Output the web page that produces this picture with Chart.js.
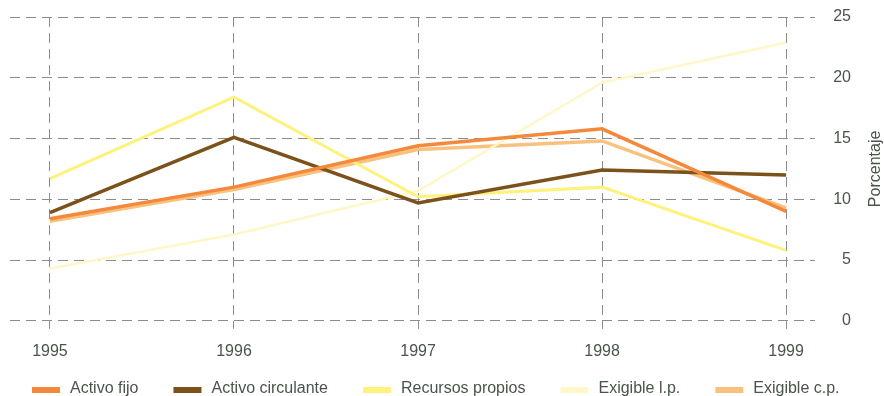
<!DOCTYPE html>
<html lang="es">
<head>
<meta charset="utf-8">
<title>Porcentaje 1995-1999</title>
<script src="https://cdn.jsdelivr.net/npm/chart.js@4/dist/chart.umd.min.js"></script>
<style>
  html, body { margin: 0; padding: 0; background: #fff; overflow: hidden; }
  canvas { display: block; }
</style>
</head>
<body>
<canvas id="grafico" width="884" height="396"></canvas>
<script>
const years = [1995, 1996, 1997, 1998, 1999];
const yTicks = [0, 5, 10, 15, 20, 25];

const activoFijo = [8.4, 11.0, 14.4, 15.8, 9.0];
const activoCirculante = [8.9, 15.1, 9.7, 12.4, 12.0];
const recursosPropios = [11.7, 18.4, 10.2, 11.0, 5.8];
const exigibleLP = [4.3, 7.1, 10.7, 19.6, 22.9];
const exigibleCP = [8.2, 10.8, 14.1, 14.8, 9.3];

const series = [
    { label: 'Activo fijo', data: activoFijo, color: '#f4893c', width: 3.5 },
    { label: 'Activo circulante', data: activoCirculante, color: '#7b511c', width: 3.5 },
    { label: 'Recursos propios', data: recursosPropios, color: '#fff27c', width: 3 },
    { label: 'Exigible l.p.', data: exigibleLP, color: '#fff7c8', width: 2.5 },
    { label: 'Exigible c.p.', data: exigibleCP, color: '#f8c27e', width: 3.5 }
];

const gridColor = '#8c8c8c';
const textColor = '#4a554a';
const font = { family: "'Liberation Sans', Arial, sans-serif", size: 16 };

// single-row legend under the axis, plus the rotated axis title
const extras = {
    id: 'extras',
    afterDraw(chart) {
        const { ctx, chartArea } = chart;
        ctx.save();
        ctx.font = `16px ${font.family}`;
        ctx.textBaseline = 'middle';

        let cx = 32;
        const cy = 389;
        chart.data.datasets.forEach(ds => {
            ctx.fillStyle = ds.borderColor;
            ctx.fillRect(cx, cy - 2, 28, 6);
            ctx.fillStyle = textColor;
            ctx.textAlign = 'left';
            ctx.fillText(ds.label, cx + 38, cy);
            cx += 38 + ctx.measureText(ds.label).width + 35;
        });

        ctx.translate(876, (chartArea.top + chartArea.bottom) / 2);
        ctx.rotate(-Math.PI / 2);
        ctx.textAlign = 'center';
        ctx.fillStyle = textColor;
        ctx.fillText('Porcentaje', 0, 0);
        ctx.restore();
    }
};

new Chart(document.getElementById('grafico'), {
    type: 'line',
    data: {
        datasets: series.map(s => ({
            label: s.label,
            data: s.data.map((v, i) => ({ x: years[i], y: v })),
            borderColor: s.color,
            backgroundColor: s.color,
            borderWidth: s.width,
            pointRadius: 0,
            tension: 0,
            fill: false
        }))
    },
    options: {
        responsive: false,
        animation: false,
        layout: { padding: { left: 10, right: 33, top: 17, bottom: 22 } },
        plugins: {
            legend: { display: false },
            tooltip: { enabled: false }
        },
        scales: {
            x: {
                type: 'linear',
                min: 1994.783,
                max: 1999.158,
                afterBuildTicks: axis => { axis.ticks = years.map(v => ({ value: v })); },
                grid: {
                    color: gridColor,
                    lineWidth: 1,
                    tickLength: 8,
                    tickColor: gridColor,
                    tickBorderDash: [10, 6]
                },
                border: { display: false, dash: [10, 6] },
                ticks: {
                    padding: 13,
                    color: textColor,
                    font: font,
                    maxRotation: 0,
                    callback: v => String(v)
                }
            },
            y: {
                position: 'right',
                min: 0,
                max: 25,
                afterBuildTicks: axis => { axis.ticks = yTicks.map(v => ({ value: v })); },
                grid: {
                    color: gridColor,
                    lineWidth: 1,
                    tickLength: 18,
                    tickColor: 'rgba(0,0,0,0)'
                },
                border: { display: false, dash: [10, 6] },
                ticks: {
                    padding: 0,
                    crossAlign: 'far',
                    color: textColor,
                    font: font
                }
            }
        }
    },
    plugins: [extras]
});
</script>
</body>
</html>
